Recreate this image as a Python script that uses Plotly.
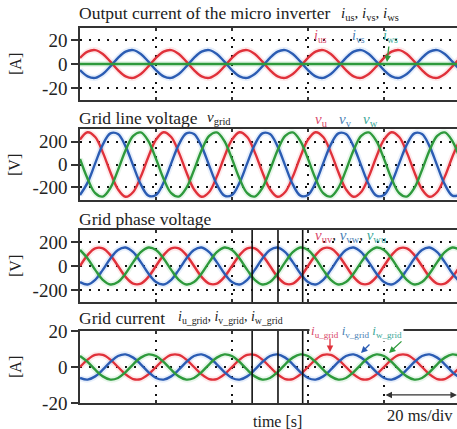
import plotly.graph_objects as go

W, H = 457, 429

# ---------------- data ----------------
time_s = [0.000, 0.002, 0.004, 0.006, 0.008, 0.010, 0.012, 0.014, 0.016, 0.018,
          0.020, 0.022, 0.024, 0.026, 0.028, 0.030, 0.032, 0.034, 0.036, 0.038,
          0.040, 0.042, 0.044, 0.046, 0.048, 0.050, 0.052, 0.054, 0.056, 0.058,
          0.060, 0.062, 0.064, 0.066, 0.068, 0.070, 0.072, 0.074, 0.076, 0.078,
          0.080, 0.082, 0.084, 0.086, 0.088, 0.090, 0.092, 0.094, 0.096, 0.098,
          0.100]

# Output current of the micro inverter [A]
i_us = [5.1, 10.3, 11.6, 8.4, 2.0, -5.1, -10.3, -11.6, -8.4, -2.0,
        5.1, 10.3, 11.6, 8.4, 2.0, -5.1, -10.3, -11.6, -8.4, -2.0,
        5.1, 10.3, 11.6, 8.4, 2.0, -5.1, -10.3, -11.6, -8.4, -2.0,
        5.1, 10.3, 11.6, 8.4, 2.0, -5.1, -10.3, -11.6, -8.4, -2.0,
        5.1, 10.3, 11.6, 8.4, 2.0, -5.1, -10.3, -11.6, -8.4, -2.0,
        5.1]
i_vs = [-5.1, -10.3, -11.6, -8.4, -2.0, 5.1, 10.3, 11.6, 8.4, 2.0,
        -5.1, -10.3, -11.6, -8.4, -2.0, 5.1, 10.3, 11.6, 8.4, 2.0,
        -5.1, -10.3, -11.6, -8.4, -2.0, 5.1, 10.3, 11.6, 8.4, 2.0,
        -5.1, -10.3, -11.6, -8.4, -2.0, 5.1, 10.3, 11.6, 8.4, 2.0,
        -5.1, -10.3, -11.6, -8.4, -2.0, 5.1, 10.3, 11.6, 8.4, 2.0,
        -5.1]
i_ws = [0.0, 0.0, 0.0, 0.0, 0.0, 0.0, 0.0, 0.0, 0.0, 0.0,
        0.0, 0.0, 0.0, 0.0, 0.0, 0.0, 0.0, 0.0, 0.0, 0.0,
        0.0, 0.0, 0.0, 0.0, 0.0, 0.0, 0.0, 0.0, 0.0, 0.0,
        0.0, 0.0, 0.0, 0.0, 0.0, 0.0, 0.0, 0.0, 0.0, 0.0,
        0.0, 0.0, 0.0, 0.0, 0.0, 0.0, 0.0, 0.0, 0.0, 0.0,
        0.0]

# Grid line voltage [V]
v_u = [217, 282, 240, 106, -68, -217, -282, -240, -106, 68,
       217, 282, 240, 106, -68, -217, -282, -240, -106, 68,
       217, 282, 240, 106, -68, -217, -282, -240, -106, 68,
       217, 282, 240, 106, -68, -217, -282, -240, -106, 68,
       217, 282, 240, 106, -68, -217, -282, -240, -106, 68,
       217]
v_v = [-266, -158, 10, 174, 272, 266, 158, -10, -174, -272,
       -266, -158, 10, 174, 272, 266, 158, -10, -174, -272,
       -266, -158, 10, 174, 272, 266, 158, -10, -174, -272,
       -266, -158, 10, 174, 272, 266, 158, -10, -174, -272,
       -266, -158, 10, 174, 272, 266, 158, -10, -174, -272,
       -266]
v_w = [49, -124, -250, -280, -204, -49, 124, 250, 280, 204,
       49, -124, -250, -280, -204, -49, 124, 250, 280, 204,
       49, -124, -250, -280, -204, -49, 124, 250, 280, 204,
       49, -124, -250, -280, -204, -49, 124, 250, 280, 204,
       49, -124, -250, -280, -204, -49, 124, 250, 280, 204,
       49]

# Grid phase voltage [V]
v_uv = [0, 91, 147, 147, 91, 0, -91, -147, -147, -91,
        0, 91, 147, 147, 91, 0, -91, -147, -147, -91,
        0, 91, 147, 147, 91, 0, -91, -147, -147, -91,
        0, 91, 147, 147, 91, 0, -91, -147, -147, -91,
        0, 91, 147, 147, 91, 0, -91, -147, -147, -91,
        0]
v_vw = [-134, -154, -115, -32, 63, 134, 154, 115, 32, -63,
        -134, -154, -115, -32, 63, 134, 154, 115, 32, -63,
        -134, -154, -115, -32, 63, 134, 154, 115, 32, -63,
        -134, -154, -115, -32, 63, 134, 154, 115, 32, -63,
        -134, -154, -115, -32, 63, 134, 154, 115, 32, -63,
        -134]
v_wu = [134, 63, -32, -115, -154, -134, -63, 32, 115, 154,
        134, 63, -32, -115, -154, -134, -63, 32, 115, 154,
        134, 63, -32, -115, -154, -134, -63, 32, 115, 154,
        134, 63, -32, -115, -154, -134, -63, 32, 115, 154,
        134, 63, -32, -115, -154, -134, -63, 32, 115, 154,
        134]

# Grid current [A]
i_u_grid = [0.0, 4.1, 6.7, 6.7, 4.1, 0.0, -4.1, -6.7, -6.7, -4.1,
            0.0, 4.1, 6.7, 6.7, 4.1, 0.0, -4.1, -6.7, -6.7, -4.1,
            0.0, 4.1, 6.7, 6.7, 4.1, 0.0, -4.1, -6.7, -6.7, -4.1,
            0.0, 4.1, 6.7, 6.7, 4.1, 0.0, -4.1, -6.7, -6.7, -4.1,
            0.0, 4.1, 6.7, 6.7, 4.1, 0.0, -4.1, -6.7, -6.7, -4.1,
            0.0]
i_v_grid = [-6.1, -7.0, -5.2, -1.5, 2.8, 6.1, 7.0, 5.2, 1.5, -2.8,
            -6.1, -7.0, -5.2, -1.5, 2.8, 6.1, 7.0, 5.2, 1.5, -2.8,
            -6.1, -7.0, -5.2, -1.5, 2.8, 6.1, 7.0, 5.2, 1.5, -2.8,
            -6.1, -7.0, -5.2, -1.5, 2.8, 6.1, 7.0, 5.2, 1.5, -2.8,
            -6.1, -7.0, -5.2, -1.5, 2.8, 6.1, 7.0, 5.2, 1.5, -2.8,
            -6.1]
i_w_grid = [6.1, 2.8, -1.5, -5.2, -7.0, -6.1, -2.8, 1.5, 5.2, 7.0,
            6.1, 2.8, -1.5, -5.2, -7.0, -6.1, -2.8, 1.5, 5.2, 7.0,
            6.1, 2.8, -1.5, -5.2, -7.0, -6.1, -2.8, 1.5, 5.2, 7.0,
            6.1, 2.8, -1.5, -5.2, -7.0, -6.1, -2.8, 1.5, 5.2, 7.0,
            6.1, 2.8, -1.5, -5.2, -7.0, -6.1, -2.8, 1.5, 5.2, 7.0,
            6.1]

time_grid = [0.02, 0.04, 0.06, 0.08]          # 20 ms/div
cursor_times = [0.0453, 0.0521, 0.0586]       # solid cursor lines (panels 3, 4)
current_ticks = [-20, 0, 20]
current_ticktext = ["-20", "0", "20"]
voltage_ticks = [-200, 0, 200]
voltage_ticktext = ["-200", "0", "200"]

# ---------------- styling ----------------
RED, BLUE, GREEN = "#e0313a", "#2b5cb3", "#2e9a3c"
RED_H, BLUE_H, GREEN_H = "rgba(240,80,90,0.12)", "rgba(60,120,220,0.12)", "rgba(60,180,80,0.12)"
LRED, LBLUE, LTEAL = "#d9486a", "#4a7fb5", "#3aa898"
SERIF = "Liberation Serif, Times New Roman, serif"
AX = "#333333"

fig = go.Figure()

panels = [
    ("x", "y", [(i_us, RED, RED_H), (i_vs, BLUE, BLUE_H), (i_ws, GREEN, GREEN_H)]),
    ("x2", "y2", [(v_u, RED, RED_H), (v_v, BLUE, BLUE_H), (v_w, GREEN, GREEN_H)]),
    ("x3", "y3", [(v_uv, RED, RED_H), (v_vw, BLUE, BLUE_H), (v_wu, GREEN, GREEN_H)]),
    ("x4", "y4", [(i_u_grid, RED, RED_H), (i_v_grid, BLUE, BLUE_H), (i_w_grid, GREEN, GREEN_H)]),
]
for xa, ya, series in panels:
    for vals, col, halo in series:
        fig.add_trace(go.Scatter(x=time_s, y=vals, xaxis=xa, yaxis=ya, mode="lines",
                                 line=dict(color=halo, width=6, shape="spline"),
                                 hoverinfo="skip", showlegend=False))
    for vals, col, halo in series:
        fig.add_trace(go.Scatter(x=time_s, y=vals, xaxis=xa, yaxis=ya, mode="lines",
                                 line=dict(color=col, width=2.4, shape="spline"),
                                 showlegend=False))


def py(p):
    return 1 - p / H


def px(p):
    return p / W


x_dom = [80 / W, 1.0]
y_doms = [[py(100), py(28)], [py(200), py(129)], [py(302), py(230)], [py(403), py(331)]]
y_ranges = [[-30, 30], [-310, 310], [-300, 300], [-20, 20]]
y_tv = [current_ticks, voltage_ticks, voltage_ticks, current_ticks]
y_tt = [current_ticktext, voltage_ticktext, voltage_ticktext, current_ticktext]

grid_common = dict(showgrid=True, gridcolor="#111111", gridwidth=2, griddash="2px,7px", zeroline=False)

for n in range(4):
    sx = "" if n == 0 else str(n + 1)
    fig.layout["xaxis" + sx] = dict(
        domain=x_dom, range=[0, (W - 80) / 76 * 0.02], anchor="y" + sx,
        showline=True, linecolor=AX, linewidth=1.6, mirror="ticks",
        ticks="inside", ticklen=3, tickwidth=1.6, tickcolor=AX,
        tickvals=time_grid, showticklabels=False, automargin=False, **grid_common)
    fig.layout["yaxis" + sx] = dict(
        domain=y_doms[n], range=y_ranges[n], anchor="x" + sx,
        showline=True, linecolor=AX, linewidth=1.6, mirror=False,
        ticks="outside", ticklen=7, tickwidth=1.6, tickcolor=AX,
        tickvals=y_tv[n], ticktext=y_tt[n], automargin=False,
        tickfont=dict(family=SERIF, size=19, color="#222"), **grid_common)

shapes = []
for xa, ya in (("x3", "y3"), ("x4", "y4")):
    for t in cursor_times:
        shapes.append(dict(type="line", xref=xa, yref=ya + " domain", x0=t, x1=t, y0=0, y1=1,
                           line=dict(color="#111", width=1.6)))

ann = []


def text(x, y, s, size=17, color="#222", xanchor="left", **kw):
    ann.append(dict(x=px(x), y=py(y), xref="paper", yref="paper", text=s, showarrow=False,
                    xanchor=xanchor, yanchor="middle",
                    font=dict(family=SERIF, size=size, color=color), **kw))


def arrow(x, y, axp, ayp, color, head=2, side="end"):
    ann.append(dict(x=px(x), y=py(y), xref="paper", yref="paper", ax=axp - x, ay=ayp - y,
                    text="", showarrow=True, arrowhead=head, arrowsize=1, arrowwidth=1.3,
                    arrowcolor=color, arrowside=side))


# titles
text(77, 13, "Output current of the micro inverter", size=17.5)
text(339, 14, "<i>i</i><sub>us</sub>, <i>i</i><sub>vs</sub>, <i>i</i><sub>ws</sub>", size=15)
text(77, 118, "Grid line voltage", size=17.5)
text(205, 118, "<i>v</i><sub>grid</sub>", size=15)
text(77, 219, "Grid phase voltage", size=17.5)
text(77, 318, "Grid current", size=17.5)
text(176, 317, "<i>i</i><sub>u_grid</sub>, <i>i</i><sub>v_grid</sub>, <i>i</i><sub>w_grid</sub>", size=14)

# y-axis titles
for yc, lab in ((64, "[A]"), (165, "[V]"), (266, "[V]"), (367, "[A]")):
    text(15, yc, lab, size=16, xanchor="center", textangle=-90)

# in-plot labels
text(320, 36, "<i>i</i><sub>us</sub>", size=14, color=LRED, xanchor="center")
text(358, 36, "<i>i</i><sub>vs</sub>", size=14, color=LBLUE, xanchor="center")
text(390, 36, "<i>i</i><sub>ws</sub>", size=14, color=LTEAL, xanchor="center")
arrow(387, 62, 389, 45, GREEN)

text(321, 120, "<i>v</i><sub>u</sub>", size=15, color=LRED, xanchor="center")
text(345, 120, "<i>v</i><sub>v</sub>", size=15, color=LBLUE, xanchor="center")
text(370, 120, "<i>v</i><sub>w</sub>", size=15, color=LTEAL, xanchor="center")

text(313, 236,
     f"<span style='color:{LRED}'><i>v</i><sub>uv</sub></span>, "
     f"<span style='color:{LBLUE}'><i>v</i><sub>vw</sub></span>, "
     f"<span style='color:{LTEAL}'><i>v</i><sub>wu</sub></span>", size=15)

text(309, 331,
     f"<span style='color:{LRED}'><i>i</i><sub>u_grid</sub></span> "
     f"<span style='color:{LBLUE}'><i>i</i><sub>v_grid</sub></span> "
     f"<span style='color:{LTEAL}'><i>i</i><sub>w_grid</sub></span>",
     size=13, bgcolor="white", borderpad=1)
arrow(330, 352, 330, 337, RED)
arrow(361, 353, 371, 343, BLUE)
arrow(389, 353, 403, 340, GREEN)

# time axis notes
text(277, 421, "time [s]", size=16, xanchor="center")
text(385, 415, "20 ms/div", size=16.5)
ann.append(dict(x=0.0992, y=-15.5, xref="x4", yref="y4", ax=0.08, ay=-15.5, axref="x4", ayref="y4",
                text="", showarrow=True, arrowhead=2, arrowsize=1, arrowwidth=1.3,
                arrowcolor="#333", arrowside="end+start"))

fig.update_layout(
    width=W, height=H, margin=dict(l=0, r=0, t=0, b=0, autoexpand=False),
    paper_bgcolor="white", plot_bgcolor="white",
    shapes=shapes, annotations=ann, showlegend=False,
)

fig.write_html("out.html", config={"displayModeBar": False},
               post_script="document.body.style.margin='0px';")
